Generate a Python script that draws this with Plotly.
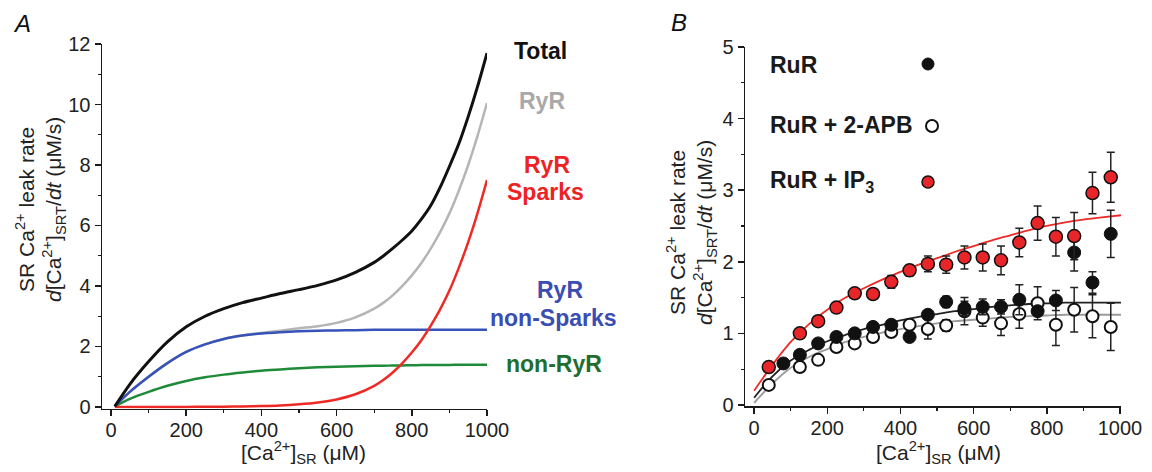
import plotly.graph_objects as go

W, H = 1152, 472
def px(x): return x / W
def py(y): return 1 - y / H

# ---------------- Panel A data (model curves) ----------------
ca_sr_A = [10, 50, 100, 150, 200, 250, 300, 350, 400, 450, 500, 550, 600, 650,
           700, 725, 750, 775, 800, 825, 850, 875, 900, 925, 950, 975, 1000]
total_leak = [0.02, 0.75, 1.5, 2.15, 2.65, 3.0, 3.25, 3.45, 3.6, 3.75, 3.88, 4.02,
              4.2, 4.45, 4.78, 5.0, 5.25, 5.52, 5.82, 6.2, 6.65, 7.25, 7.95, 8.7,
              9.6, 10.6, 11.7]
ryr_leak = [0.02, 0.5, 1.0, 1.45, 1.82, 2.07, 2.25, 2.37, 2.45, 2.52, 2.6, 2.67,
            2.78, 2.96, 3.25, 3.45, 3.7, 4.0, 4.35, 4.75, 5.23, 5.77, 6.4, 7.15,
            8.0, 8.97, 10.05]
ryr_nonsparks = [0.02, 0.5, 1.0, 1.45, 1.82, 2.07, 2.25, 2.36, 2.43, 2.47, 2.5, 2.52,
                 2.53, 2.54, 2.55, 2.55, 2.55, 2.55, 2.55, 2.55, 2.55, 2.55, 2.55,
                 2.55, 2.55, 2.55, 2.55]
non_ryr = [0.02, 0.27, 0.5, 0.7, 0.86, 0.98, 1.07, 1.14, 1.2, 1.24, 1.28, 1.31,
           1.33, 1.35, 1.36, 1.365, 1.37, 1.375, 1.38, 1.385, 1.39, 1.39, 1.39,
           1.395, 1.4, 1.4, 1.4]
ryr_sparks = [0.0, 0.0, 0.0, 0.0, 0.003, 0.005, 0.01, 0.02, 0.03, 0.05, 0.09, 0.15,
              0.25, 0.42, 0.7, 0.9, 1.15, 1.45, 1.8, 2.2, 2.68, 3.22, 3.85, 4.6,
              5.45, 6.42, 7.5]

# ---------------- Panel B data (measurements) ----------------
rur_x = [80, 125, 175, 225, 275, 325, 375, 425, 475, 525, 575, 625, 675, 725,
         775, 825, 875, 925, 975]
rur_y = [0.58, 0.70, 0.86, 0.95, 1.0, 1.09, 1.12, 0.95, 1.26, 1.44, 1.35, 1.37,
         1.37, 1.47, 1.31, 1.46, 2.13, 1.71, 2.39]
rur_err = [0.03, 0.04, 0.04, 0.04, 0.04, 0.04, 0.04, 0.03, 0.06, 0.08, 0.1, 0.11,
           0.1, 0.21, 0.05, 0.14, 0.26, 0.15, 0.33]

apb_x = [40, 125, 175, 225, 275, 325, 375, 425, 475, 525, 575, 625, 675, 725,
         775, 825, 875, 925, 975]
apb_y = [0.28, 0.53, 0.63, 0.81, 0.86, 0.95, 1.02, 1.12, 1.06, 1.11, 1.31, 1.22,
         1.14, 1.27, 1.42, 1.12, 1.33, 1.24, 1.09]
apb_err = [0.03, 0.03, 0.03, 0.03, 0.03, 0.03, 0.04, 0.05, 0.14, 0.08, 0.19, 0.12,
           0.17, 0.2, 0.23, 0.29, 0.31, 0.3, 0.33]

ip3_x = [40, 125, 175, 225, 275, 325, 375, 425, 475, 525, 575, 625, 675, 725,
         775, 825, 875, 925, 975]
ip3_y = [0.53, 1.0, 1.17, 1.36, 1.56, 1.55, 1.72, 1.88, 1.97, 1.96, 2.06, 2.06,
         2.02, 2.27, 2.54, 2.35, 2.36, 2.96, 3.18]
ip3_err = [0.03, 0.04, 0.04, 0.05, 0.05, 0.06, 0.09, 0.08, 0.11, 0.12, 0.16, 0.19,
           0.2, 0.2, 0.24, 0.27, 0.33, 0.29, 0.35]

fit_x = [0, 50, 100, 150, 200, 250, 300, 350, 400, 450, 500, 550, 600, 650, 700,
         750, 800, 850, 900, 950, 1003]
fit_ip3 = [0.2, 0.56, 0.88, 1.13, 1.33, 1.5, 1.63, 1.75, 1.86, 1.96, 2.05, 2.14,
           2.22, 2.3, 2.37, 2.44, 2.5, 2.55, 2.59, 2.62, 2.65]
fit_rur = [0.1, 0.4, 0.62, 0.77, 0.89, 0.98, 1.06, 1.12, 1.18, 1.23, 1.27, 1.31,
           1.34, 1.37, 1.39, 1.41, 1.42, 1.43, 1.43, 1.43, 1.43]
fit_apb = [0.03, 0.3, 0.52, 0.67, 0.78, 0.88, 0.95, 1.01, 1.06, 1.1, 1.14, 1.17,
           1.19, 1.21, 1.23, 1.24, 1.25, 1.26, 1.26, 1.26, 1.26]

tick_x = [0, 200, 400, 600, 800, 1000]
minor_x = [100, 300, 500, 700, 900]

FONT = "Arial, Liberation Sans, Helvetica, sans-serif"
C_BLACK = "#111111"
C_GRAY = "#b5b5b5"
C_RED = "#ee2a26"
C_BLUE = "#3752b8"
C_GREEN = "#1f8a38"

fig = go.Figure()

# Panel A curves
for ys, col, w in [(ryr_leak, C_GRAY, 2.5), (non_ryr, C_GREEN, 2.5),
                   (ryr_nonsparks, C_BLUE, 2.5), (ryr_sparks, C_RED, 2.5),
                   (total_leak, C_BLACK, 3)]:
    fig.add_trace(go.Scatter(x=ca_sr_A, y=ys, mode="lines",
                             line=dict(color=col, width=w, shape="spline", smoothing=0.7),
                             xaxis="x", yaxis="y", showlegend=False, hoverinfo="skip"))

# Panel B fits
for ys, col in [(fit_apb, "#9a9a9a"), (fit_rur, "#222222"), (fit_ip3, C_RED)]:
    fig.add_trace(go.Scatter(x=fit_x, y=ys, mode="lines",
                             line=dict(color=col, width=1.8, shape="spline"),
                             xaxis="x2", yaxis="y2", showlegend=False, hoverinfo="skip"))

err_style = dict(type="data", color="#222222", thickness=1.5, width=4)
# Panel B points
fig.add_trace(go.Scatter(x=apb_x, y=apb_y, mode="markers",
                         error_y=dict(array=apb_err, **err_style),
                         marker=dict(size=12, color="white", line=dict(color="#111", width=2)),
                         xaxis="x2", yaxis="y2", showlegend=False))
fig.add_trace(go.Scatter(x=rur_x, y=rur_y, mode="markers",
                         error_y=dict(array=rur_err, **err_style),
                         marker=dict(size=13, color="#111", line=dict(color="#111", width=1)),
                         xaxis="x2", yaxis="y2", showlegend=False))
fig.add_trace(go.Scatter(x=ip3_x, y=ip3_y, mode="markers",
                         error_y=dict(array=ip3_err, **err_style),
                         marker=dict(size=13, color="#e8262a", line=dict(color="#111", width=1.5)),
                         xaxis="x2", yaxis="y2", showlegend=False))

axis_common = dict(showline=True, linecolor="#1a1a1a", linewidth=1.5, ticks="outside",
                   ticklen=6, tickwidth=1.5, tickcolor="#1a1a1a", showgrid=False,
                   zeroline=False, automargin=False,
                   tickfont=dict(family=FONT, size=20, color="#222"))
minor_common = dict(ticks="outside", ticklen=3, tickwidth=1.2, tickcolor="#1a1a1a",
                    showgrid=False)

fig.update_layout(
    template="none",
    width=W, height=H, margin=dict(l=0, r=0, t=0, b=0, pad=0, autoexpand=False),
    paper_bgcolor="white", plot_bgcolor="white", font=dict(family=FONT, color="#222"),
    xaxis=dict(domain=[102 / W, 487 / W], range=[-24, 1000], anchor="y",
               tickvals=tick_x, ticktext=[str(v) for v in tick_x], ticklabelstandoff=-3,
               minor=dict(tickvals=minor_x, **minor_common), **axis_common),
    yaxis=dict(domain=[py(408.5), py(44)], range=[-0.05, 12], anchor="x",
               tickvals=[0, 2, 4, 6, 8, 10, 12],
               minor=dict(tickvals=[1, 3, 5, 7, 9, 11], **minor_common), **axis_common),
    xaxis2=dict(domain=[745 / W, 1121 / W], range=[-25, 1003], anchor="y2",
                tickvals=tick_x, ticktext=[str(v) for v in tick_x], ticklabelstandoff=-3,
                minor=dict(tickvals=minor_x, **minor_common), **axis_common),
    yaxis2=dict(domain=[py(406.4), py(47)], range=[-0.02, 5], anchor="x2",
                tickvals=[0, 1, 2, 3, 4, 5],
                minor=dict(tickvals=[0.5, 1.5, 2.5, 3.5, 4.5], **minor_common),
                **axis_common),
)

ann = []
def text(x, y, t, size=23, color="#111", bold=False, italic=False, angle=0, xanchor="center"):
    s = t
    if bold:
        s = "<b>" + s + "</b>"
    if italic:
        s = "<i>" + s + "</i>"
    ann.append(dict(x=px(x), y=py(y), xref="paper", yref="paper", text=s, showarrow=False,
                    xanchor=xanchor, yanchor="middle", textangle=angle,
                    font=dict(family=FONT, size=size, color=color)))

# panel letters
text(22, 24, "A", size=24, italic=True)
text(679, 23, "B", size=24, italic=True)

ytitle = ("SR Ca<sup>2+</sup> leak rate<br><i>d</i>[Ca<sup>2+</sup>]<sub>SRT</sub>/<i>dt</i> (μM/s)")
text(41, 210, ytitle, size=21, color="#222", angle=-90)
text(691, 233, ytitle, size=21, color="#222", angle=-90)
xtitle = "[Ca<sup>2+</sup>]<sub>SR</sub> (μM)"
text(303, 452, xtitle, size=21, color="#222")
text(938, 452, xtitle, size=21, color="#222")

# curve labels, panel A
text(540, 51, "Total", bold=True, color="#111")
text(542, 101, "RyR", bold=True, color="#a9a9a9")
text(547, 165, "RyR", bold=True, color="#ee2222")
text(545, 192, "Sparks", bold=True, color="#ee2222")
text(560, 290, "RyR", bold=True, color="#3a4db2")
text(553, 318, "non-Sparks", bold=True, color="#3a4db2")
text(554, 364, "non-RyR", bold=True, color="#1f6e2e")

# legend, panel B
text(768, 65, "RuR", bold=True, color="#1a1a1a", xanchor="left")
text(768, 125, "RuR + 2-APB", bold=True, color="#1a1a1a", xanchor="left")
text(768, 181, "RuR + IP<sub>3</sub>", bold=True, color="#1a1a1a", xanchor="left")
fig.update_layout(annotations=ann)

def dot(cx, cy, fill, lw):
    fig.add_shape(type="circle", xref="paper", yref="paper", xsizemode="pixel",
                  ysizemode="pixel", xanchor=px(cx), yanchor=py(cy),
                  x0=-6, x1=6, y0=-6, y1=6, fillcolor=fill,
                  line=dict(color="#111", width=lw))
dot(928, 64, "#111", 1)
dot(932, 126, "white", 2)
dot(928, 182, "#e8262a", 1.5)

fig.write_html("out.html", config={"displayModeBar": False, "staticPlot": True},
               post_script="document.body.style.margin='0';document.body.style.padding='0';"
                           "document.documentElement.style.overflow='hidden';")
